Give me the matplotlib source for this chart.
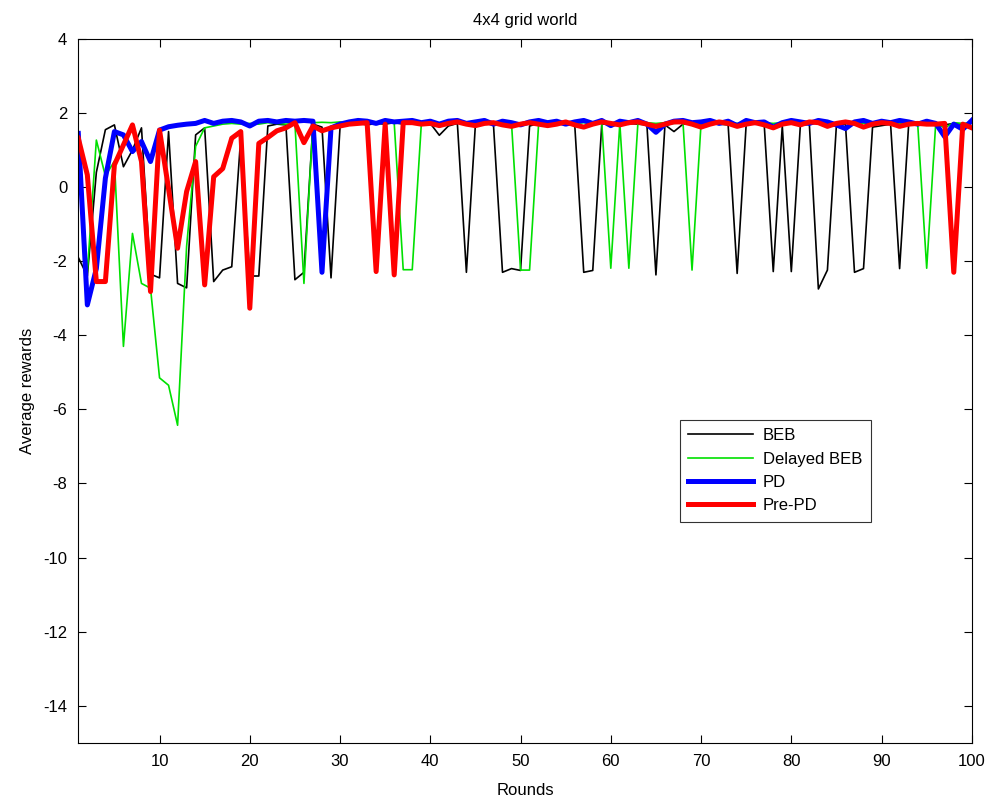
import matplotlib
matplotlib.use("Agg")
import matplotlib.pyplot as plt

plt.rcParams["font.family"] = ["Liberation Sans", "DejaVu Sans"]
plt.rcParams["axes.unicode_minus"] = False

# Average reward per round for each exploration strategy
rounds = list(range(1, 101))

beb = [
    -1.9, -2.4, 0.4, 1.55, 1.68, 0.55, 1.0, 1.6, -2.35, -2.45,
    1.5, -2.6, -2.72, 1.41, 1.6, -2.55, -2.24, -2.15, 1.35, -2.4,
    -2.4, 1.65, 1.7, 1.68, -2.5, -2.3, 1.7, 1.62, -2.45, 1.62,
    1.7, 1.72, 1.68, 1.72, 1.7, 1.74, 1.7, 1.72, 1.7, 1.72,
    1.4, 1.65, 1.72, -2.3, 1.7, 1.72, 1.68, -2.3, -2.2, -2.25,
    1.65, 1.72, 1.7, 1.72, 1.68, 1.7, -2.3, -2.25, 1.7, 1.72,
    1.7, 1.72, 1.7, 1.68, -2.37, 1.68, 1.5, 1.7, 1.72, 1.7,
    1.72, 1.7, 1.68, -2.33, 1.7, 1.72, 1.68, -2.28, 1.65, -2.28,
    1.66, 1.7, -2.75, -2.24, 1.68, 1.7, -2.3, -2.2, 1.62, 1.66,
    1.7, -2.2, 1.68, 1.7, 1.72, 1.7, 1.68, 1.72, 1.7, 1.72,
]

delayed_beb = [
    1.0, -2.3, 1.27, 0.3, 0.7, -4.3, -1.25, -2.6, -2.73, -5.15,
    -5.35, -6.43, -1.6, 1.1, 1.6, 1.65, 1.7, 1.72, 1.7, 1.72,
    1.7, 1.74, 1.72, 1.7, 1.72, -2.6, 1.74, 1.75, 1.74, 1.76,
    1.74, 1.75, 1.76, 1.74, 1.75, 1.74, -2.23, -2.23, 1.68, 1.72,
    1.74, 1.72, 1.74, 1.72, 1.74, 1.75, 1.73, 1.74, 1.72, -2.24,
    -2.24, 1.7, 1.74, 1.72, 1.74, 1.72, 1.74, 1.72, 1.74, -2.19,
    1.72, -2.19, 1.72, 1.74, 1.72, 1.74, 1.72, 1.74, -2.24, 1.72,
    1.74, 1.72, 1.74, 1.72, 1.74, 1.72, 1.74, 1.72, 1.74, 1.72,
    1.74, 1.72, 1.74, 1.72, 1.74, 1.72, 1.74, 1.72, 1.74, 1.72,
    1.74, 1.72, 1.74, 1.72, -2.19, 1.72, 1.6, 1.74, 1.72, 1.74,
]

pd_rewards = [
    1.45, -3.18, -2.2, 0.24, 1.5, 1.41, 0.96, 1.23, 0.69, 1.54,
    1.63, 1.67, 1.7, 1.72, 1.8, 1.72, 1.78, 1.8, 1.76, 1.65,
    1.78, 1.8, 1.76, 1.8, 1.78, 1.8, 1.78, -2.3, 1.6, 1.7,
    1.76, 1.8, 1.78, 1.72, 1.8, 1.76, 1.78, 1.8, 1.74, 1.78,
    1.7, 1.78, 1.8, 1.72, 1.76, 1.8, 1.7, 1.78, 1.74, 1.68,
    1.76, 1.8, 1.74, 1.78, 1.7, 1.76, 1.8, 1.72, 1.8, 1.66,
    1.78, 1.74, 1.8, 1.7, 1.48, 1.7, 1.78, 1.8, 1.74, 1.76,
    1.8, 1.72, 1.78, 1.66, 1.8, 1.74, 1.76, 1.62, 1.74, 1.8,
    1.76, 1.72, 1.8, 1.76, 1.68, 1.58, 1.76, 1.8, 1.72, 1.78,
    1.74, 1.8, 1.76, 1.7, 1.78, 1.72, 1.36, 1.7, 1.56, 1.8,
]

pre_pd_rewards = [
    1.32, 0.33, -2.55, -2.55, 0.6, 1.14, 1.68, 0.69, -2.82, 1.54,
    -0.05, -1.65, -0.12, 0.69, -2.64, 0.28, 0.5, 1.32, 1.5, -3.27,
    1.18, 1.34, 1.52, 1.6, 1.74, 1.2, 1.65, 1.52, 1.6, 1.65,
    1.7, 1.72, 1.74, -2.28, 1.7, -2.37, 1.74, 1.74, 1.7, 1.72,
    1.66, 1.72, 1.76, 1.7, 1.66, 1.72, 1.74, 1.68, 1.64, 1.7,
    1.74, 1.7, 1.66, 1.7, 1.76, 1.68, 1.62, 1.7, 1.76, 1.72,
    1.68, 1.74, 1.76, 1.7, 1.64, 1.7, 1.76, 1.76, 1.7, 1.62,
    1.7, 1.76, 1.72, 1.64, 1.7, 1.74, 1.68, 1.6, 1.7, 1.74,
    1.68, 1.76, 1.74, 1.64, 1.72, 1.76, 1.72, 1.62, 1.7, 1.74,
    1.72, 1.64, 1.7, 1.72, 1.7, 1.7, 1.72, -2.3, 1.7, 1.6,
]

x_ticks = [10, 20, 30, 40, 50, 60, 70, 80, 90, 100]
y_ticks = [-14, -12, -10, -8, -6, -4, -2, 0, 2, 4]

fig = plt.figure(figsize=(9.95, 8.05), dpi=100)
ax = fig.add_axes([0.0787, 0.0774, 0.898, 0.8742])

ax.plot(rounds, beb, color="black", linewidth=1.2, label="BEB")
ax.plot(rounds, delayed_beb, color="#00e000", linewidth=1.2, label="Delayed BEB")
ax.plot(rounds, pd_rewards, color="#0000ff", linewidth=3.6, label="PD")
ax.plot(rounds, pre_pd_rewards, color="#ff0000", linewidth=3.6, label="Pre-PD")

ax.set_xlim(1, 100)
ax.set_ylim(-15, 4)
ax.set_xticks(x_ticks)
ax.set_yticks(y_ticks)
ax.tick_params(direction="in", top=True, right=True, labelsize=12,
               length=6, width=0.8, pad=8)
for spine in ax.spines.values():
    spine.set_linewidth(0.8)

ax.set_title("4x4 grid world", fontsize=12, pad=10)
ax.set_xlabel("Rounds", fontsize=12, labelpad=10)
ax.set_ylabel("Average rewards", fontsize=12, labelpad=6)

leg = ax.legend(loc="upper left", bbox_to_anchor=(0.673, 0.4586),
                fontsize=12, frameon=True, fancybox=False, edgecolor="black",
                handlelength=3.9, handletextpad=0.6, labelspacing=0.5,
                borderpad=0.5, borderaxespad=0)
leg.get_frame().set_linewidth(0.8)

fig.savefig("out.png", dpi=100)
